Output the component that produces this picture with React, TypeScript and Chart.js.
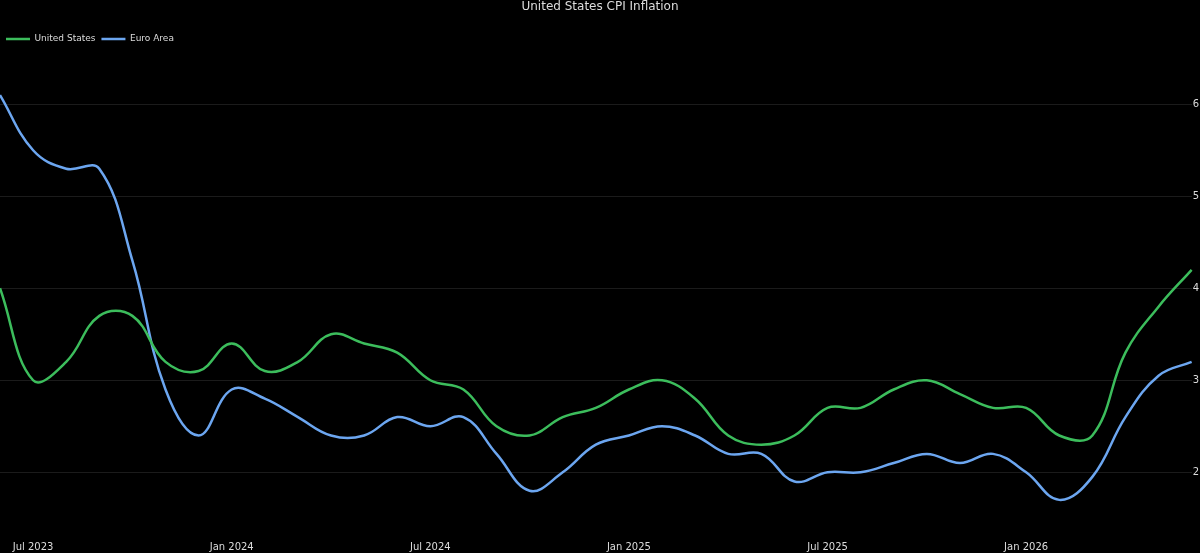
import { useEffect, useRef } from "react";
import { Chart, registerables } from "chart.js";

Chart.register(...registerables);

const chartTitle = "United States CPI Inflation";

const months = [
  "Jun 2023", "Jul 2023", "Aug 2023", "Sep 2023", "Oct 2023", "Nov 2023", "Dec 2023",
  "Jan 2024", "Feb 2024", "Mar 2024", "Apr 2024", "May 2024", "Jun 2024",
  "Jul 2024", "Aug 2024", "Sep 2024", "Oct 2024", "Nov 2024", "Dec 2024",
  "Jan 2025", "Feb 2025", "Mar 2025", "Apr 2025", "May 2025", "Jun 2025",
  "Jul 2025", "Aug 2025", "Sep 2025", "Oct 2025", "Nov 2025", "Dec 2025",
  "Jan 2026", "Feb 2026", "Mar 2026", "Apr 2026", "May 2026", "Jun 2026",
];

const unitedStates = [
  4.0, 3.0, 3.2, 3.7, 3.7, 3.2, 3.1,
  3.4, 3.1, 3.2, 3.5, 3.4, 3.3,
  3.0, 2.9, 2.5, 2.4, 2.6, 2.7,
  2.9, 3.0, 2.8, 2.4, 2.3, 2.4,
  2.7, 2.7, 2.9, 3.0, 2.85, 2.7,
  2.7, 2.4, 2.4, 3.3, 3.8, 4.2,
];

const euroArea = [
  6.1, 5.5, 5.3, 5.3, 4.3, 2.9, 2.4,
  2.9, 2.8, 2.6, 2.4, 2.4, 2.6,
  2.5, 2.6, 2.2, 1.8, 2.0, 2.3,
  2.4, 2.5, 2.4, 2.2, 2.2, 1.9,
  2.0, 2.0, 2.1, 2.2, 2.1, 2.2,
  2.0, 1.7, 1.95, 2.6, 3.05, 3.2,
];

const shownTickMonths = ["Jan", "Jul"];

const GREEN = "#3cbd5c";
const BLUE = "#6ca6f0";
const TEXT = "#dcdcdc";
const GRID = "#1b1b1b";
const FONT = "'DejaVu Sans', Verdana, sans-serif";

export default function App() {
  const ref = useRef<HTMLCanvasElement>(null);

  useEffect(() => {
    document.body.style.margin = "0";
    document.body.style.background = "#000";
    const chart = new Chart(ref.current!, {
      type: "line",
      data: {
        labels: months,
        datasets: [
          {
            label: "United States",
            data: unitedStates,
            borderColor: GREEN,
            backgroundColor: GREEN,
            borderWidth: 2.5,
            pointRadius: 0,
            tension: 0.4,
          },
          {
            label: "Euro Area",
            data: euroArea,
            borderColor: BLUE,
            backgroundColor: BLUE,
            borderWidth: 2.5,
            pointRadius: 0,
            tension: 0.4,
          },
        ],
      },
      options: {
        animation: false,
        responsive: true,
        maintainAspectRatio: false,
        layout: { padding: 0 },
        font: { family: FONT },
        plugins: {
          title: {
            display: true,
            text: chartTitle,
            color: TEXT,
            font: { family: FONT, size: 12, weight: "normal" },
            padding: { top: 0, bottom: 14.1 },
          },
          legend: {
            display: true,
            position: "top",
            align: "start",
            labels: {
              usePointStyle: true,
              pointStyle: "line",
              pointStyleWidth: 24,
              color: TEXT,
              font: { family: FONT, size: 9 },
              padding: 6,
            },
          },
          tooltip: { enabled: false },
        },
        scales: {
          x: {
            grid: { display: false, drawTicks: false },
            border: { display: false },
            ticks: {
              autoSkip: false,
              maxRotation: 0,
              color: TEXT,
              font: { family: FONT, size: 10 },
              padding: 0,
              callback: (_v: any, i: number) => {
                const m = months[i];
                return shownTickMonths.some((s) => m.startsWith(s)) ? m : null;
              },
            },
          },
          y: {
            position: "right",
            min: 1.253,
            max: 6.552,
            grid: { color: GRID, drawTicks: false },
            border: { display: false },
            ticks: {
              stepSize: 1,
              includeBounds: false,
              color: TEXT,
              font: { family: FONT, size: 10 },
              padding: 1,
            },
          },
        },
      },
    });
    return () => chart.destroy();
  }, []);

  return (
    <div style={{ width: 1200, height: 553, position: "relative", background: "#000" }}>
      <canvas ref={ref} />
    </div>
  );
}
